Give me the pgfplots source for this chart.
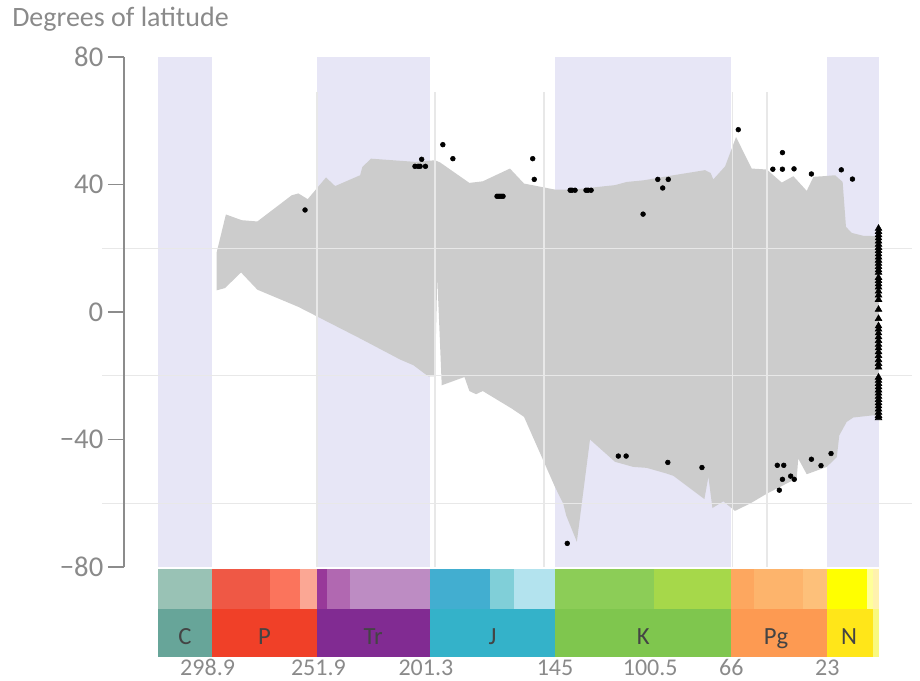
\documentclass[border=0pt]{standalone}
\usepackage{pgfplots}
\pgfplotsset{compat=1.18}
\usepackage{fontspec}
\setmainfont{Carlito}
\definecolor{lav}{HTML}{E7E6F6}
\definecolor{envgrey}{HTML}{CCCCCC}
\definecolor{gridc}{HTML}{E8E8E8}
\definecolor{axgrey}{HTML}{8C8C8C}
\definecolor{txtgrey}{HTML}{8A8A8A}
\definecolor{lbl}{HTML}{444444}
% ICS epoch colours
\definecolor{Penn}{HTML}{99C2B5}
\definecolor{Cisu}{HTML}{EF5845}
\definecolor{Guad}{HTML}{FB745C}
\definecolor{Lopi}{HTML}{FBA794}
\definecolor{ETr}{HTML}{983999}
\definecolor{MTr}{HTML}{B168B1}
\definecolor{LTr}{HTML}{BD8CC3}
\definecolor{EJ}{HTML}{42AED0}
\definecolor{MJ}{HTML}{80CFD8}
\definecolor{LJ}{HTML}{B3E3EE}
\definecolor{EK}{HTML}{8CCD57}
\definecolor{LK}{HTML}{A6D84A}
\definecolor{Pal}{HTML}{FDA75F}
\definecolor{Eoc}{HTML}{FDB46C}
\definecolor{Oli}{HTML}{FDC07A}
\definecolor{Mio}{HTML}{FFFF00}
\definecolor{Pli}{HTML}{FFFF99}
\definecolor{Ple}{HTML}{FFF2AE}
% ICS period colours
\definecolor{Carb}{HTML}{67A599}
\definecolor{Perm}{HTML}{F04028}
\definecolor{Tria}{HTML}{812B92}
\definecolor{Jura}{HTML}{34B2C9}
\definecolor{Cret}{HTML}{7FC64E}
\definecolor{Pale}{HTML}{FD9A52}
\definecolor{Neog}{HTML}{FFE619}
\definecolor{Quat}{HTML}{F9F97F}

\pgfplotstableread{
age lat
296.8 18.8
292.7 30.6
285.6 28.8
278.6 28.4
263.2 36.6
260.2 37.2
256.0 35.4
247.8 42.2
243.7 39.5
232.5 42.9
231.5 45.5
227.6 48.1
207.9 47.1
198.9 47.6
196.6 46.9
183.5 40.5
177.5 41.0
165.3 45.0
159.0 40.3
145.1 38.4
136.9 38.4
118.2 39.8
112.9 40.8
105.5 41.3
92.0 42.9
77.8 44.5
75.3 43.6
74.1 41.6
68.8 45.7
63.9 54.9
56.9 45.0
50.1 44.7
43.4 40.6
38.2 42.6
32.2 38.0
29.2 42.4
24.8 42.6
19.5 42.9
16.1 40.8
14.6 26.7
12.0 24.8
6.8 23.9
1.1 23.8
0 23.8
0 -32.9
2.3 -32.4
6.1 -32.7
11.3 -33.1
14.3 -34.5
17.6 -38.7
18.7 -45.5
23.2 -48.6
32.2 -50.9
36.0 -46.0
36.7 -52.2
50.1 -57.0
57.6 -60.1
64.4 -62.4
69.6 -59.4
74.5 -61.5
76.3 -51.7
78.1 -58.7
92.0 -51.4
95.0 -50.7
104.0 -48.9
110.0 -48.6
118.2 -47.0
129.4 -40.0
135.3 -72.1
140.1 -63.8
141.4 -60.1
145.1 -54.9
159.0 -32.9
164.5 -30.3
177.5 -24.8
180.5 -25.8
183.5 -24.8
185.7 -20.4
195.9 -23.0
197.9 11.0
198.9 -20.2
201.9 -20.2
208.6 -16.7
214.6 -14.9
232.5 -8.3
260.2 1.6
278.6 7.0
285.9 12.4
293.1 7.5
296.8 6.8
}\envelope

\pgfplotstableread{
age lat
257.2 32.0
204.9 47.9
207.9 45.7
206.5 45.7
205.6 45.7
203.2 45.7
195.4 52.5
190.9 48.1
171.1 36.3
170.2 36.3
169.3 36.3
168.4 36.3
155.1 48.1
154.4 41.6
138.3 38.2
137.5 38.2
136.1 38.2
131.2 38.2
130.3 38.2
128.9 38.2
105.6 30.7
99.0 41.6
94.3 41.6
96.8 38.9
62.9 57.2
43.1 50.0
47.4 44.8
43.1 44.8
37.9 44.9
30.1 43.3
16.7 44.6
11.7 41.7
139.6 -72.6
116.7 -45.2
113.2 -45.2
94.5 -47.2
79.2 -48.8
45.4 -48.1
42.5 -48.1
43.1 -52.5
44.5 -55.9
39.4 -51.5
37.8 -52.5
30.1 -46.2
25.8 -48.2
21.3 -44.4
}\fossils

\pgfplotstableread{
age lat
0 26.2
0 25.2
0 24.2
0 23.2
0 22.2
0 21.2
0 20.2
0 19.2
0 18.2
0 17.2
0 16.2
0 15.2
0 14.2
0 13.2
0 12.4
0 10.8
0 9.8
0 8.8
0 7.8
0 6.5
0 5.3
0 3.9
0 0.8
0 -2.1
0 -4.4
0 -5.4
0 -6.6
0 -7.8
0 -9.0
0 -10.2
0 -11.3
0 -12.5
0 -13.7
0 -15.0
0 -16.2
0 -17.3
0 -20.5
0 -21.5
0 -22.5
0 -23.5
0 -24.5
0 -25.5
0 -26.5
0 -27.5
0 -28.5
0 -29.5
0 -30.5
0 -31.5
0 -32.5
0 -33.2
}\modern

\begin{document}
\begin{tikzpicture}
\begin{axis}[
  at={(0,0)}, anchor=south west,
  scale only axis, width=565.9pt, height=450pt,
  x dir=reverse, xmin=0, xmax=338.4, ymin=-108.24, ymax=80,
  clip=false,
  axis x line=none, axis y line*=left,
  y axis line style={draw=none},
  ytick={-80,-40,0,40,80}, yticklabels={−80,−40,0,40,80},
  tick align=outside,
  major tick length=12pt,
  ytick style={draw=axgrey, line width=1.1pt},
  yticklabel style={font=\fontsize{21.5}{25}\selectfont, text=txtgrey},
]
% lavender period bands
\fill[lav] (axis cs:323.2,-80) rectangle (axis cs:298.9,80);
\fill[lav] (axis cs:251.902,-80) rectangle (axis cs:201.3,80);
\fill[lav] (axis cs:145,-80) rectangle (axis cs:66,80);
\fill[lav] (axis cs:23.03,-80) rectangle (axis cs:0,80);
% envelope
\addplot[fill=envgrey, draw=none] table[x=age, y=lat] {\envelope} -- cycle;
% grid lines
\draw[gridc, line width=1.1pt] (axis cs:348.2,20) -- (axis cs:-15,20);
\draw[gridc, line width=1.1pt] (axis cs:348.2,-20) -- (axis cs:-15,-20);
\draw[gridc, line width=1.1pt] (axis cs:348.2,-60) -- (axis cs:-15,-60);
\draw[gridc, line width=1.1pt] (axis cs:251.9,69) -- (axis cs:251.9,-80);
\draw[gridc, line width=1.1pt] (axis cs:199,69) -- (axis cs:199,-80);
\draw[gridc, line width=1.1pt] (axis cs:150,69) -- (axis cs:150,-80);
\draw[gridc, line width=1.1pt] (axis cs:65.4,69) -- (axis cs:65.4,-80);
\draw[gridc, line width=1.1pt] (axis cs:50,69) -- (axis cs:50,-80);
% y axis line
\draw[axgrey, line width=1.1pt] (axis cs:338.4,-80) -- (axis cs:338.4,80);
% fossil points
\addplot[only marks, mark=*, mark size=1.8pt, black] table[x=age, y=lat] {\fossils};
\addplot[only marks, mark=triangle*, mark size=2.9pt, black] table[x=age, y=lat] {\modern};
% timescale: epochs
\fill[Penn] (axis cs:323.2,-80.7) rectangle (axis cs:298.9,-93.25);
\fill[Cisu] (axis cs:298.9,-80.7) rectangle (axis cs:273.01,-93.25);
\fill[Guad] (axis cs:273.01,-80.7) rectangle (axis cs:259.51,-93.25);
\fill[Lopi] (axis cs:259.51,-80.7) rectangle (axis cs:251.902,-93.25);
\fill[ETr] (axis cs:251.902,-80.7) rectangle (axis cs:247.2,-93.25);
\fill[MTr] (axis cs:247.2,-80.7) rectangle (axis cs:237,-93.25);
\fill[LTr] (axis cs:237,-80.7) rectangle (axis cs:201.3,-93.25);
\fill[EJ] (axis cs:201.3,-80.7) rectangle (axis cs:174.1,-93.25);
\fill[MJ] (axis cs:174.1,-80.7) rectangle (axis cs:163.5,-93.25);
\fill[LJ] (axis cs:163.5,-80.7) rectangle (axis cs:145,-93.25);
\fill[EK] (axis cs:145,-80.7) rectangle (axis cs:100.5,-93.25);
\fill[LK] (axis cs:100.5,-80.7) rectangle (axis cs:66,-93.25);
\fill[Pal] (axis cs:66,-80.7) rectangle (axis cs:56,-93.25);
\fill[Eoc] (axis cs:56,-80.7) rectangle (axis cs:33.9,-93.25);
\fill[Oli] (axis cs:33.9,-80.7) rectangle (axis cs:23.03,-93.25);
\fill[Mio] (axis cs:23.03,-80.7) rectangle (axis cs:5.333,-93.25);
\fill[Pli] (axis cs:5.333,-80.7) rectangle (axis cs:2.58,-93.25);
\fill[Ple] (axis cs:2.58,-80.7) rectangle (axis cs:0,-93.25);
% timescale: periods
\fill[Carb] (axis cs:323.2,-93.25) rectangle (axis cs:298.9,-108.24);
\fill[Perm] (axis cs:298.9,-93.25) rectangle (axis cs:251.902,-108.24);
\fill[Tria] (axis cs:251.902,-93.25) rectangle (axis cs:201.3,-108.24);
\fill[Jura] (axis cs:201.3,-93.25) rectangle (axis cs:145,-108.24);
\fill[Cret] (axis cs:145,-93.25) rectangle (axis cs:66,-108.24);
\fill[Pale] (axis cs:66,-93.25) rectangle (axis cs:23.03,-108.24);
\fill[Neog] (axis cs:23.03,-93.25) rectangle (axis cs:2.58,-108.24);
\fill[Quat] (axis cs:2.58,-93.25) rectangle (axis cs:0,-108.24);
% period labels
\node[anchor=base, text=lbl, font=\fontsize{18.5}{22}\selectfont, inner sep=0pt] at (axis cs:311.05,-104.2) {C};
\node[anchor=base, text=lbl, font=\fontsize{18.5}{22}\selectfont, inner sep=0pt] at (axis cs:275.4,-104.2) {P};
\node[anchor=base, text=lbl, font=\fontsize{18.5}{22}\selectfont, inner sep=0pt] at (axis cs:226.6,-104.2) {Tr};
\node[anchor=base, text=lbl, font=\fontsize{18.5}{22}\selectfont, inner sep=0pt] at (axis cs:173.15,-104.2) {J};
\node[anchor=base, text=lbl, font=\fontsize{18.5}{22}\selectfont, inner sep=0pt] at (axis cs:105.5,-104.2) {K};
\node[anchor=base, text=lbl, font=\fontsize{18.5}{22}\selectfont, inner sep=0pt] at (axis cs:46,-104.2) {Pg};
\node[anchor=base, text=lbl, font=\fontsize{18.5}{22}\selectfont, inner sep=0pt] at (axis cs:13.2,-104.2) {N};
% boundary ages
\node[anchor=base, text=txtgrey, font=\fontsize{18}{22}\selectfont, inner sep=0pt] at (axis cs:300.9,-114.2) {298.9};
\node[anchor=base, text=txtgrey, font=\fontsize{18}{22}\selectfont, inner sep=0pt] at (axis cs:251.2,-114.2) {251.9};
\node[anchor=base, text=txtgrey, font=\fontsize{18}{22}\selectfont, inner sep=0pt] at (axis cs:203.0,-114.2) {201.3};
\node[anchor=base, text=txtgrey, font=\fontsize{18}{22}\selectfont, inner sep=0pt] at (axis cs:145.1,-114.2) {145};
\node[anchor=base, text=txtgrey, font=\fontsize{18}{22}\selectfont, inner sep=0pt] at (axis cs:102.4,-114.2) {100.5};
\node[anchor=base, text=txtgrey, font=\fontsize{18}{22}\selectfont, inner sep=0pt] at (axis cs:66,-114.2) {66};
\node[anchor=base, text=txtgrey, font=\fontsize{18}{22}\selectfont, inner sep=0pt] at (axis cs:23,-114.2) {23};
\end{axis}
\node[anchor=base west, inner sep=0pt, text=txtgrey, font=\fontsize{21}{25}\selectfont] at (-84pt,472.5pt) {Degrees of latitude};
\pgfresetboundingbox
\path[use as bounding box] (-93pt,-18pt) rectangle (597pt,492.75pt);
\end{tikzpicture}
\end{document}
